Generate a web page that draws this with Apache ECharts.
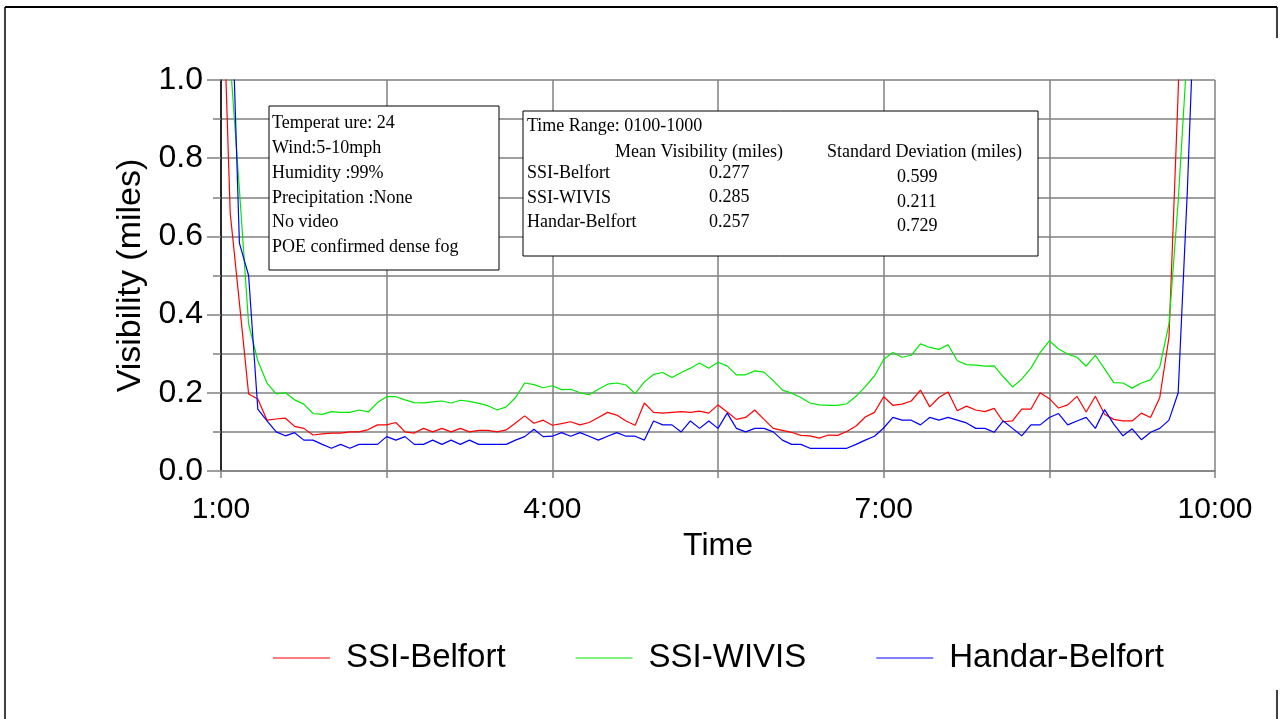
<!DOCTYPE html>
<html>
<head>
<meta charset="utf-8">
<script src="https://cdn.jsdelivr.net/npm/echarts@6/dist/echarts.min.js"></script>
<style>
html,body{margin:0;padding:0;background:#fff;}
#chart{width:1281px;height:719px;}
</style>
</head>
<body>
<div id="chart"></div>
<script>
// time stamps every 5 minutes from 1:00 to 10:00
const times = [];
for (let h = 1; h <= 10; h++) {
  for (let m = 0; m < 60; m += 5) {
    if (h === 10 && m > 0) break;
    times.push(h + ':' + (m < 10 ? '0' + m : m));
  }
}

const ssiBelfort = [
  1.40, 0.66, 0.43, 0.197, 0.184, 0.13, 0.133, 0.135, 0.114, 0.109,
  0.092, 0.095, 0.097, 0.097, 0.10, 0.10, 0.106, 0.118, 0.118, 0.124,
  0.10, 0.097, 0.109, 0.10, 0.109, 0.10, 0.109, 0.10, 0.104, 0.104,
  0.10, 0.105, 0.123, 0.141, 0.122, 0.13, 0.117, 0.121, 0.126, 0.118,
  0.124, 0.137, 0.15, 0.143, 0.128, 0.117, 0.174, 0.15, 0.148, 0.15,
  0.152, 0.15, 0.153, 0.148, 0.169, 0.151, 0.132, 0.137, 0.156, 0.132,
  0.109, 0.104, 0.099, 0.091, 0.09, 0.084, 0.092, 0.091, 0.101, 0.115,
  0.138, 0.15, 0.19, 0.168, 0.171, 0.179, 0.207, 0.164, 0.188, 0.202,
  0.154, 0.166, 0.156, 0.152, 0.16, 0.126, 0.128, 0.158, 0.158, 0.20,
  0.185, 0.161, 0.169, 0.191, 0.151, 0.191, 0.145, 0.132, 0.128, 0.128,
  0.148, 0.137, 0.188, 0.342, 0.97, 1.8, 2.0, 2.0, 2.0
];

const ssiWivis = [
  1.6, 1.05, 0.72, 0.376, 0.282, 0.225, 0.197, 0.20, 0.182, 0.171,
  0.147, 0.145, 0.152, 0.15, 0.15, 0.156, 0.151, 0.175, 0.19, 0.19,
  0.182, 0.175, 0.174, 0.177, 0.179, 0.174, 0.181, 0.178, 0.173, 0.167,
  0.156, 0.164, 0.188, 0.225, 0.221, 0.213, 0.218, 0.208, 0.209, 0.20,
  0.195, 0.209, 0.222, 0.225, 0.22, 0.198, 0.228, 0.247, 0.252, 0.239,
  0.252, 0.263, 0.276, 0.263, 0.278, 0.269, 0.246, 0.246, 0.256, 0.253,
  0.231, 0.207, 0.199, 0.188, 0.174, 0.169, 0.168, 0.168, 0.172, 0.191,
  0.216, 0.243, 0.285, 0.303, 0.291, 0.296, 0.325, 0.316, 0.311, 0.323,
  0.282, 0.272, 0.271, 0.268, 0.269, 0.241, 0.215, 0.235, 0.263, 0.303,
  0.333, 0.312, 0.299, 0.291, 0.268, 0.296, 0.261, 0.226, 0.225, 0.212,
  0.225, 0.233, 0.266, 0.376, 0.69, 1.08, 1.8, 2.0, 2.0
];

const handarBelfort = [
  2.0, 1.34, 0.583, 0.50, 0.158, 0.128, 0.10, 0.09, 0.098, 0.079,
  0.079, 0.068, 0.058, 0.068, 0.058, 0.068, 0.068, 0.068, 0.088, 0.079,
  0.088, 0.068, 0.068, 0.079, 0.068, 0.079, 0.068, 0.079, 0.068, 0.068,
  0.068, 0.068, 0.079, 0.088, 0.107, 0.088, 0.089, 0.098, 0.089, 0.098,
  0.089, 0.079, 0.089, 0.098, 0.089, 0.089, 0.079, 0.128, 0.118, 0.118,
  0.10, 0.128, 0.109, 0.128, 0.109, 0.148, 0.109, 0.10, 0.109, 0.109,
  0.10, 0.079, 0.068, 0.068, 0.058, 0.058, 0.058, 0.058, 0.058, 0.068,
  0.079, 0.089, 0.11, 0.137, 0.13, 0.13, 0.118, 0.137, 0.13, 0.137,
  0.13, 0.123, 0.109, 0.109, 0.099, 0.128, 0.109, 0.09, 0.118, 0.118,
  0.137, 0.147, 0.118, 0.128, 0.137, 0.109, 0.157, 0.12, 0.09, 0.108,
  0.08, 0.099, 0.109, 0.13, 0.20, 0.72, 1.35, 2.0, 2.0
];

const seriesNames = ['SSI-Belfort', 'SSI-WIVIS', 'Handar-Belfort'];
const seriesColors = ['#ff0000', '#00e800', '#0000ff'];

const conditions = [
  'Temperat ure: 24',
  'Wind:5-10mph',
  'Humidity :99%',
  'Precipitation :None',
  'No video',
  'POE confirmed dense fog'
];
const timeRange = 'Time Range: 0100-1000';
const meanVis = ['0.277', '0.285', '0.257'];
const stdDev = ['0.599', '0.211', '0.729'];

const serif = '18px "Liberation Serif", "Times New Roman", serif';
const sans = '"Liberation Sans", Arial, Helvetica, sans-serif';

const graphics = [];
// outer frame
graphics.push({type:'line', shape:{x1:5, y1:7, x2:1277, y2:7}, style:{stroke:'#000', lineWidth:2}, z:100});
graphics.push({type:'line', shape:{x1:5, y1:7, x2:5, y2:719}, style:{stroke:'#000', lineWidth:1.5}, z:100});
graphics.push({type:'line', shape:{x1:1277, y1:7, x2:1277, y2:38}, style:{stroke:'#000', lineWidth:1.5}, z:100});
graphics.push({type:'line', shape:{x1:1277, y1:690, x2:1277, y2:719}, style:{stroke:'#000', lineWidth:1.5}, z:100});
// conditions box
graphics.push({type:'rect', shape:{x:269, y:106, width:230, height:164}, style:{fill:'#fff', stroke:'#000', lineWidth:1}, z:100});
const condY = [123.5, 148, 173, 198, 222.5, 247.2];
conditions.forEach((t, k) => {
  graphics.push({type:'text', x:272, y:condY[k], z:101,
    style:{text:t, font:serif, fill:'#000', align:'left', verticalAlign:'middle'}});
});
// statistics box
graphics.push({type:'rect', shape:{x:523, y:111, width:515, height:145}, style:{fill:'#fff', stroke:'#000', lineWidth:1}, z:100});
graphics.push({type:'text', x:527, y:126.5, z:101, style:{text:timeRange, font:serif, fill:'#000', verticalAlign:'middle'}});
graphics.push({type:'text', x:615, y:152.5, z:101, style:{text:'Mean Visibility (miles)', font:serif, fill:'#000', verticalAlign:'middle'}});
graphics.push({type:'text', x:827, y:152.5, z:101, style:{text:'Standard Deviation (miles)', font:serif, fill:'#000', verticalAlign:'middle'}});
const rowY = [173.5, 198, 222.5];
seriesNames.forEach((n, k) => {
  graphics.push({type:'text', x:527, y:rowY[k], z:101, style:{text:n, font:serif, fill:'#000', verticalAlign:'middle'}});
  graphics.push({type:'text', x:709, y:rowY[k] - 0.5, z:101, style:{text:meanVis[k], font:serif, fill:'#000', verticalAlign:'middle'}});
  graphics.push({type:'text', x:897, y:rowY[k] + 4, z:101, style:{text:stdDev[k], font:serif, fill:'#000', verticalAlign:'middle'}});
});

const chart = echarts.init(document.getElementById('chart'), null, {renderer:'canvas'});
chart.setOption({
  animation: false,
  backgroundColor: '#fff',
  grid: {left: 221, right: 66, top: 80, bottom: 248, containLabel: false},
  legend: {
    data: seriesNames,
    top: 635, left: 268,
    itemWidth: 57, itemHeight: 1.2, icon: 'rect',
    itemGap: 70,
    textStyle: {fontSize: 33, fontFamily: sans, color: '#000', padding: [0, 0, 0, 11], lineHeight: 36}
  },
  xAxis: {
    type: 'category',
    data: times,
    boundaryGap: false,
    name: 'Time',
    nameLocation: 'middle',
    nameGap: 56,
    nameTextStyle: {fontSize: 32, fontFamily: sans, color: '#000'},
    axisLine: {show: true, lineStyle: {color: '#808080', width: 1.5}},
    axisTick: {show: true, interval: 17, length: 7, lineStyle: {color: '#808080', width: 1.5}},
    axisLabel: {interval: 35, fontSize: 30, fontFamily: sans, color: '#000', margin: 24},
    splitLine: {show: true, interval: 17, lineStyle: {color: '#808080', width: 1.5}}
  },
  yAxis: {
    type: 'value',
    min: 0, max: 1, interval: 0.2,
    name: 'Visibility (miles)',
    nameLocation: 'middle',
    nameGap: 73,
    nameTextStyle: {fontSize: 34, fontFamily: sans, color: '#000'},
    axisLine: {show: true, lineStyle: {color: '#000', width: 1.5}},
    axisTick: {show: true, length: 14, lineStyle: {color: '#808080', width: 1.5}},
    minorTick: {show: true, splitNumber: 2, length: 8, lineStyle: {color: '#808080', width: 1.5}},
    axisLabel: {formatter: v => v.toFixed(1), fontSize: 32, fontFamily: sans, color: '#000', margin: 18},
    splitLine: {show: true, lineStyle: {color: '#808080', width: 1.5}},
    minorSplitLine: {show: true, lineStyle: {color: '#808080', width: 1.5}}
  },
  series: [ssiBelfort, ssiWivis, handarBelfort].map((d, k) => ({
    name: seriesNames[k],
    type: 'line',
    data: d,
    symbol: 'none',
    clip: true,
    lineStyle: {color: seriesColors[k], width: 1.2},
    itemStyle: {color: seriesColors[k]},
    z: 3 + k
  })),
  graphic: graphics
});
</script>
</body>
</html>
